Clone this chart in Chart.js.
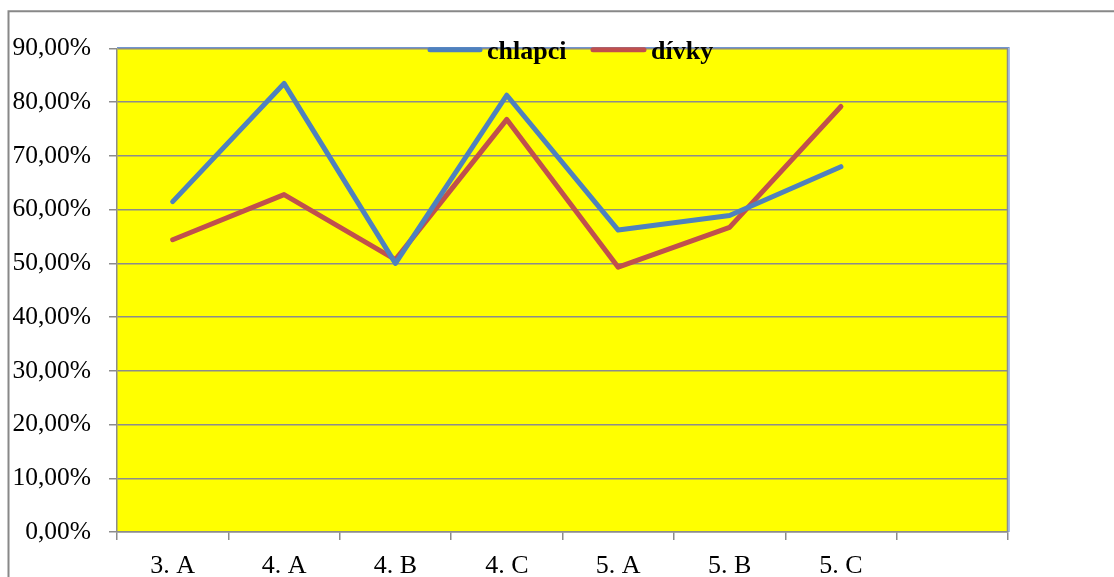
<!DOCTYPE html>
<html>
<head>
<meta charset="utf-8">
<script src="https://cdn.jsdelivr.net/npm/chart.js@4/dist/chart.umd.min.js"></script>
<style>
  html, body { margin: 0; padding: 0; background: #ffffff; overflow: hidden; }
  #wrap { position: absolute; left: 0; top: 0; width: 1114px; height: 600px; }
</style>
</head>
<body>
<div id="wrap"><canvas id="c" width="1114" height="600"></canvas></div>
<script>
// Classes (last slot is an empty category, as in the source workbook)
const classes = ['3. A', '4. A', '4. B', '4. C', '5. A', '5. B', '5. C', ''];
// Share of successful answers per class
const chlapci = [0.615, 0.835, 0.500, 0.813, 0.562, 0.589, 0.680, null];
const divky   = [0.544, 0.628, 0.507, 0.768, 0.493, 0.567, 0.792, null];
// Y axis range in steps of 10 %
const yMin = 0, yMax = 0.9, yStep = 0.1;

const SERIF = '"Liberation Serif", "Times New Roman", serif';
const GRID = '#8c8c8c';
const BLUE = '#4f81bd';
const RED = '#c0504d';

const fmtPct = v => (v * 100).toFixed(2).replace('.', ',') + '%';

// Outer frame, yellow plot background and plot border
const backdrop = {
  id: 'backdrop',
  beforeDraw(chart) {
    const { ctx, chartArea: a } = chart;
    ctx.save();
    ctx.fillStyle = '#ffffff';
    ctx.fillRect(0, 0, chart.width, chart.height);
    ctx.strokeStyle = '#888888';
    ctx.lineWidth = 2;
    ctx.beginPath();
    ctx.moveTo(8.5, chart.height);
    ctx.lineTo(8.5, 11.2);
    ctx.lineTo(chart.width, 11.2);
    ctx.stroke();
    ctx.fillStyle = '#ffff00';
    ctx.fillRect(a.left, a.top, a.right - a.left, a.bottom - a.top);
    ctx.restore();
  },
  beforeDatasetsDraw(chart) {
    const { ctx, chartArea: a } = chart;
    ctx.save();
    ctx.strokeStyle = GRID;
    ctx.lineWidth = 1.5;
    ctx.beginPath();
    ctx.moveTo(a.right - 0.5, a.top);
    ctx.lineTo(a.right - 0.5, a.bottom);
    ctx.stroke();
    ctx.strokeStyle = '#7196d0';
    ctx.lineWidth = 1.2;
    ctx.beginPath();
    ctx.moveTo(a.left, a.top - 1);
    ctx.lineTo(a.right + 1, a.top - 1);
    ctx.lineTo(a.right + 1, a.bottom);
    ctx.stroke();
    ctx.restore();
  }
};

// Legend laid over the top edge of the plot
const overLegend = {
  id: 'overLegend',
  afterDraw(chart) {
    const { ctx } = chart;
    const items = [
      { x: 428, w: 54, gap: 5 },
      { x: 591, w: 55, gap: 5 }
    ];
    ctx.save();
    ctx.font = 'bold 26px ' + SERIF;
    ctx.textBaseline = 'alphabetic';
    ctx.textAlign = 'left';
    chart.data.datasets.forEach((ds, i) => {
      const it = items[i];
      ctx.strokeStyle = ds.borderColor;
      ctx.lineWidth = 5;
      ctx.lineCap = 'round';
      ctx.beginPath();
      ctx.moveTo(it.x + 2, 49.7);
      ctx.lineTo(it.x + it.w - 2, 49.7);
      ctx.stroke();
      ctx.fillStyle = '#000000';
      ctx.fillText(ds.label, it.x + it.w + it.gap, 59.3);
    });
    ctx.restore();
  }
};

new Chart(document.getElementById('c'), {
  type: 'line',
  data: {
    labels: classes,
    datasets: [
      { label: 'chlapci', data: chlapci, borderColor: BLUE, backgroundColor: BLUE },
      { label: 'dívky', data: divky, borderColor: RED, backgroundColor: RED }
    ]
  },
  options: {
    responsive: false,
    animation: false,
    events: [],
    layout: { padding: { left: 0, top: 48.5, right: 106, bottom: 0 } },
    elements: {
      line: { borderWidth: 5, tension: 0, borderCapStyle: 'round', borderJoinStyle: 'round' },
      point: { radius: 0, hoverRadius: 0 }
    },
    plugins: {
      legend: { display: false },
      tooltip: { enabled: false }
    },
    scales: {
      x: {
        type: 'category',
        offset: true,
        grid: { offset: true, drawOnChartArea: false, drawTicks: true, tickLength: 8, color: GRID, lineWidth: 1.5 },
        border: { display: true, color: GRID, width: 1.5 },
        ticks: { font: { family: SERIF, size: 26 }, color: '#000000', padding: 11, maxRotation: 0, autoSkip: false },
        afterFit(scale) { scale.height = 68; }
      },
      y: {
        min: yMin,
        max: yMax,
        grid: { color: GRID, lineWidth: 1.5, drawTicks: true, tickLength: 8, tickColor: GRID },
        border: { display: true, color: GRID, width: 1.5 },
        ticks: {
          stepSize: yStep,
          font: { family: SERIF, size: 25.5 },
          color: '#000000',
          padding: 18,
          callback: v => fmtPct(v)
        },
        afterFit(scale) { scale.width = 117; }
      }
    }
  },
  plugins: [backdrop, overLegend]
});
</script>
</body>
</html>
